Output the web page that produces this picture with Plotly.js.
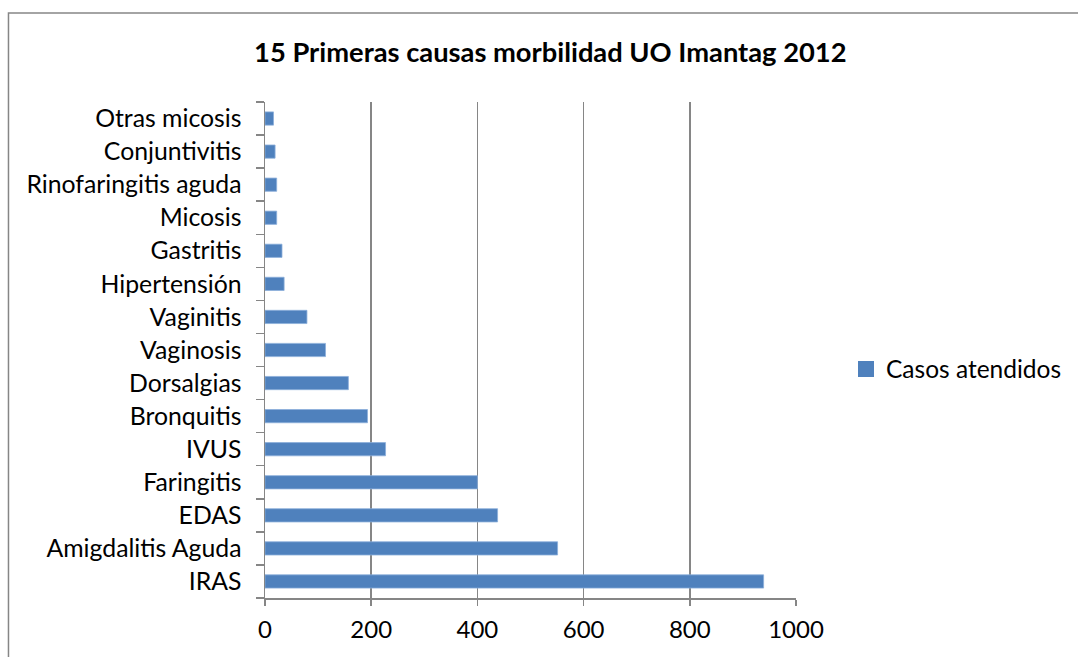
<!DOCTYPE html>
<html>
<head>
<meta charset="utf-8">
<script src="https://cdn.plot.ly/plotly-3.0.1.min.js"></script>
<style>
html,body{margin:0;padding:0;background:#fff;}
#chart{width:1078px;height:657px;}
</style>
</head>
<body>
<div id="chart"></div>
<script>
const categories = ["IRAS","Amigdalitis Aguda","EDAS","Faringitis","IVUS","Bronquitis","Dorsalgias","Vaginosis","Vaginitis","Hipertensión","Gastritis","Micosis","Rinofaringitis aguda","Conjuntivitis","Otras micosis"];
const casos = [939, 551, 438, 400, 227, 193, 157, 114, 79, 36, 32, 22, 22, 19, 16];
const xTicks = [0, 200, 400, 600, 800, 1000];
const seriesName = "Casos atendidos";
const chartTitle = "15 Primeras causas morbilidad UO Imantag 2012";

const font = "Lato, 'Open Sans', sans-serif";
const W = 1078, H = 657;
const L = 265, R = 797, T = 102, B = 598;
const barColor = "#4F81BD";

const data = [{
  type: "bar",
  orientation: "h",
  y: categories,
  x: casos,
  name: seriesName,
  marker: {color: barColor, line: {color: "#8CAEDB", width: 0.8}},
  showlegend: false
}, {
  type: "scatter",
  mode: "markers",
  x: [null], y: [null],
  name: seriesName,
  marker: {symbol: "square", size: 16, color: barColor},
  showlegend: true, hoverinfo: "skip"
}];

const layout = {
  width: W, height: H,
  margin: {l: L, r: W - R, t: T, b: H - B, pad: 0},
  paper_bgcolor: "#fff", plot_bgcolor: "#fff",
  font: {family: font, color: "#000", size: 24},
  title: {text: "<b>" + chartTitle + "</b>", x: 0.5105, xanchor: "center", y: 1 - 52 / H, yanchor: "middle", font: {family: font, size: 27.3, color: "#000"}},
  bargap: 0.6,
  xaxis: {
    range: [0, 1000], tickvals: xTicks, ticktext: xTicks.map(String),
    showgrid: true, gridcolor: "#868686", gridwidth: 1.5,
    zeroline: false, showline: true, linecolor: "#868686", linewidth: 1.5,
    ticks: "outside", ticklen: 6, tickcolor: "#868686", tickwidth: 1.5,
    tickfont: {family: font, size: 24, color: "#000"}, ticklabelstandoff: 4, fixedrange: true
  },
  yaxis: {
    type: "category", categoryorder: "array", categoryarray: categories,
    showgrid: false, zeroline: false, showline: true, linecolor: "#868686", linewidth: 1.5,
    ticks: "outside", tickson: "boundaries", ticklen: 8, tickcolor: "#868686", tickwidth: 1.5,
    tickfont: {family: font, size: 24.8, color: "#000"}, ticklabelstandoff: 17, fixedrange: true
  },
  legend: {x: (846 - L) / (R - L), xanchor: "left", y: (B - 369) / (B - T), yanchor: "middle",
    font: {family: font, size: 24.5, color: "#000"}, bgcolor: "rgba(0,0,0,0)", itemwidth: 30},
  shapes: [{
    type: "rect", xref: "paper", yref: "paper",
    x0: (8 - L) / (R - L), x1: (W + 5 - L) / (R - L),
    y0: (B - (H + 5)) / (B - T), y1: (B - 13) / (B - T),
    line: {color: "#868686", width: 1.5}, fillcolor: "rgba(0,0,0,0)", layer: "below"
  }]
};

Plotly.newPlot("chart", data, layout, {displayModeBar: false, staticPlot: true});
</script>
</body>
</html>
